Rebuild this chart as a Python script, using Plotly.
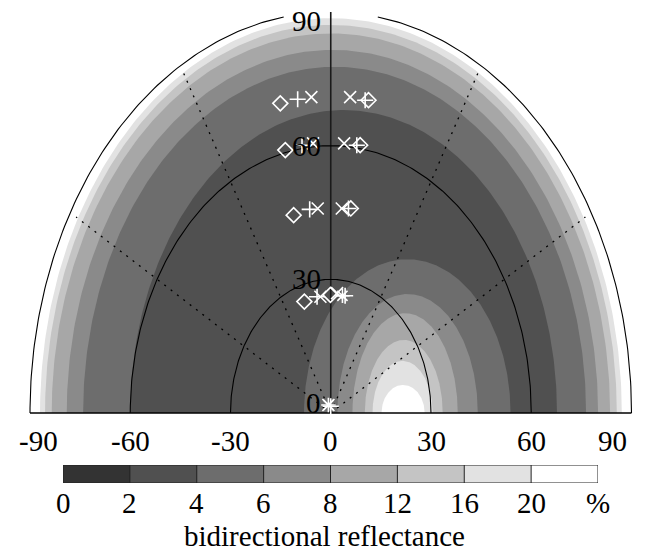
import numpy as np
import plotly.graph_objects as go

# ---- colour classes of the reflectance map (%) ----
levels = [0, 2, 4, 6, 8, 12, 16, 20]
level_labels = ["0", "2", "4", "6", "8", "12", "16", "20", "%"]
band_colors = ["#333333", "#505050", "#6d6d6d", "#8a8a8a",
               "#a7a7a7", "#c4c4c4", "#e2e2e2", "#ffffff"]

# ---- limb-brightening contours: zenith (deg) where each level is crossed ----
limb_levels = [4, 6, 8, 12, 16, 20]
limb_left = [60.0, 74.1, 79.0, 83.5, 85.5, 87.0]    # azimuth -90
limb_top = [68.0, 77.7, 81.5, 85.2, 87.1, 88.6]     # azimuth 0
limb_right = [67.7, 76.4, 80.0, 83.6, 85.6, 87.1]   # azimuth +90

# ---- hot-spot contours: crossings of the horizontal plane and apex ----
hot_levels = [4, 6, 8, 12, 16, 20]
hot_left = [-8.0, 2.0, 6.5, 10.2, 12.5, 15.2]
hot_right = [53.8, 44.0, 38.0, 33.5, 30.5, 28.1]
hot_top = [34.5, 26.7, 22.4, 16.4, 11.7, 6.3]

# ---- viewing geometries (x = zenith*sin(az), y = zenith*cos(az)) ----
diam_x = [-15.1, 11.3, -13.6, 8.8, -11.1, 6.0, -7.9, -0.1]
diam_y = [69.5, 70.2, 59.0, 60.1, 44.4, 45.9, 25.0, 26.5]
plus_x = [-9.9, 10.3, -8.6, 7.8, -6.3, 5.3, -4.1, 4.3, 0.0]
plus_y = [70.4, 70.2, 60.1, 60.1, 45.7, 45.9, 26.1, 26.3, 1.5]
cross_x = [-5.8, 5.8, -5.3, 4.0, -3.9, 3.3, -3.1, 1.9, -0.7]
cross_y = [70.9, 70.9, 60.5, 60.5, 45.9, 45.9, 26.1, 26.9, 1.8]
star_x = [-0.7, 3.5]
star_y = [1.8, 26.3]

# ---- polar grid ----
grid_zeniths = [30, 60, 90]
grid_azimuths = [-60, -30, 30, 60]
x_ticks = [-90, -60, -30, 0, 30, 60, 90]
r_ticks = [0, 30, 60, 90]

FONT = "Liberation Serif, Times New Roman, Times, serif"
t = np.linspace(0.0, np.pi, 241)

fig = go.Figure()


def half_ellipse(left, right, top):
    c = (left + right) / 2.0
    a = (right - left) / 2.0
    return c + a * np.cos(t), top * np.sin(t)


# limb bands, outermost first
for i in range(len(limb_levels) - 1, -1, -1):
    lx, ly = half_ellipse(-limb_left[i], limb_right[i], limb_top[i])
    col = band_colors[levels.index(limb_levels[i]) - 1]
    fig.add_trace(go.Scatter(x=lx, y=ly, mode="lines", fill="toself",
                             fillcolor=col, line=dict(width=0, color=col),
                             hoverinfo="skip", showlegend=False))

# hot-spot bands, outermost first
for i in range(len(hot_levels)):
    hx, hy = half_ellipse(hot_left[i], hot_right[i], hot_top[i])
    col = band_colors[levels.index(hot_levels[i])]
    fig.add_trace(go.Scatter(x=hx, y=hy, mode="lines", fill="toself",
                             fillcolor=col, line=dict(width=0, color=col),
                             hoverinfo="skip", showlegend=False))

# dotted azimuth spokes
sx, sy = [], []
for az in grid_azimuths:
    sx += [0.0, 88.0 * np.sin(np.radians(az)), None]
    sy += [0.0, 88.0 * np.cos(np.radians(az)), None]
fig.add_trace(go.Scatter(x=sx, y=sy, mode="lines",
                         line=dict(color="black", width=1.3, dash="2px,6px"),
                         hoverinfo="skip", showlegend=False))
# vertical axis
fig.add_trace(go.Scatter(x=[0, 0], y=[0, grid_zeniths[-1]], mode="lines",
                         line=dict(color="#1a1a1a", width=1.6),
                         hoverinfo="skip", showlegend=False))

# zenith circles
for z in grid_zeniths:
    cx, cy = half_ellipse(-z, z, z)
    if z == grid_zeniths[-1]:
        keep = np.abs(cx) > 13.6
        cx = np.where(keep, cx, np.nan)
        cy = np.where(keep, cy, np.nan)
    fig.add_trace(go.Scatter(x=cx, y=cy, mode="lines",
                             line=dict(color="black", width=1.1),
                             connectgaps=False,
                             hoverinfo="skip", showlegend=False))
# horizon line
fig.add_trace(go.Scatter(x=[x_ticks[0], x_ticks[-1]], y=[0, 0], mode="lines",
                         line=dict(color="black", width=1.3),
                         hoverinfo="skip", showlegend=False))

# viewing geometry markers
mk = dict(color="white", line=dict(color="white", width=1.6))
for xs, ys, sym, size in [(diam_x, diam_y, "diamond-open", 11.5),
                          (plus_x, plus_y, "cross-thin", 11.5),
                          (cross_x, cross_y, "x-thin", 12),
                          (star_x, star_y, "asterisk-open", 12)]:
    fig.add_trace(go.Scatter(x=xs, y=ys, mode="markers",
                             marker=dict(symbol=sym, size=size, **mk),
                             hoverinfo="skip", showlegend=False))

# colour bar
fig.add_trace(go.Heatmap(z=[list(range(len(band_colors)))],
                         x=[i + 0.5 for i in range(len(band_colors))], y=[0.5],
                         colorscale=[[i / (len(band_colors) - 1), c]
                                     for i, c in enumerate(band_colors)],
                         zmin=0, zmax=len(band_colors) - 1, showscale=False,
                         hoverinfo="skip", xaxis="x2", yaxis="y2"))
bx, by = [], []
for k in range(len(band_colors) + 1):
    bx += [k, k, None]
    by += [0, 1, None]
bx += [0, len(band_colors), None, 0, len(band_colors)]
by += [0, 0, None, 1, 1]
fig.add_trace(go.Scatter(x=bx, y=by, mode="lines", xaxis="x2", yaxis="y2",
                         line=dict(color="#222222", width=1),
                         hoverinfo="skip", showlegend=False))

txt = dict(family=FONT, size=29, color="black")
ann = []
for v in x_ticks:
    shift = 8 if v == x_ticks[0] else (-19 if v == x_ticks[-1] else 0)
    ann.append(dict(x=v, y=1 - 441 / 552, xref="x", yref="paper", text=str(v),
                    showarrow=False, xshift=shift, xanchor="center",
                    yanchor="middle", font=txt))
for r in r_ticks:
    ys = -9 if r == r_ticks[-1] else (10 if r == 0 else 0)
    ann.append(dict(x=0, y=r, xref="x", yref="y", text=str(r),
                    showarrow=False, xanchor="right", yanchor="middle",
                    xshift=-8, yshift=ys, font=txt))
for k, lab in enumerate(level_labels):
    ann.append(dict(x=k, y=1 - 503 / 552, xref="x2", yref="paper", text=lab,
                    showarrow=False, xanchor="center", yanchor="middle",
                    font=txt))
ann.append(dict(x=0.5, y=1 - 536 / 552, xref="paper", yref="paper",
                text="bidirectional reflectance", showarrow=False,
                xanchor="center", yanchor="middle", font=txt))

fig.update_layout(
    width=648, height=552, margin=dict(l=0, r=0, t=0, b=0),
    paper_bgcolor="white", plot_bgcolor="white",
    xaxis=dict(range=[-98.98, 94.94], visible=False, domain=[0, 1]),
    yaxis=dict(range=[-31.2, 92.69], visible=False, domain=[0, 1]),
    xaxis2=dict(range=[0, len(band_colors)], visible=False,
                domain=[63 / 648, 598 / 648], anchor="y2"),
    yaxis2=dict(range=[0, 1], visible=False,
                domain=[69 / 552, 87 / 552], anchor="x2"),
    annotations=ann,
)

fig.write_html("out.html")
